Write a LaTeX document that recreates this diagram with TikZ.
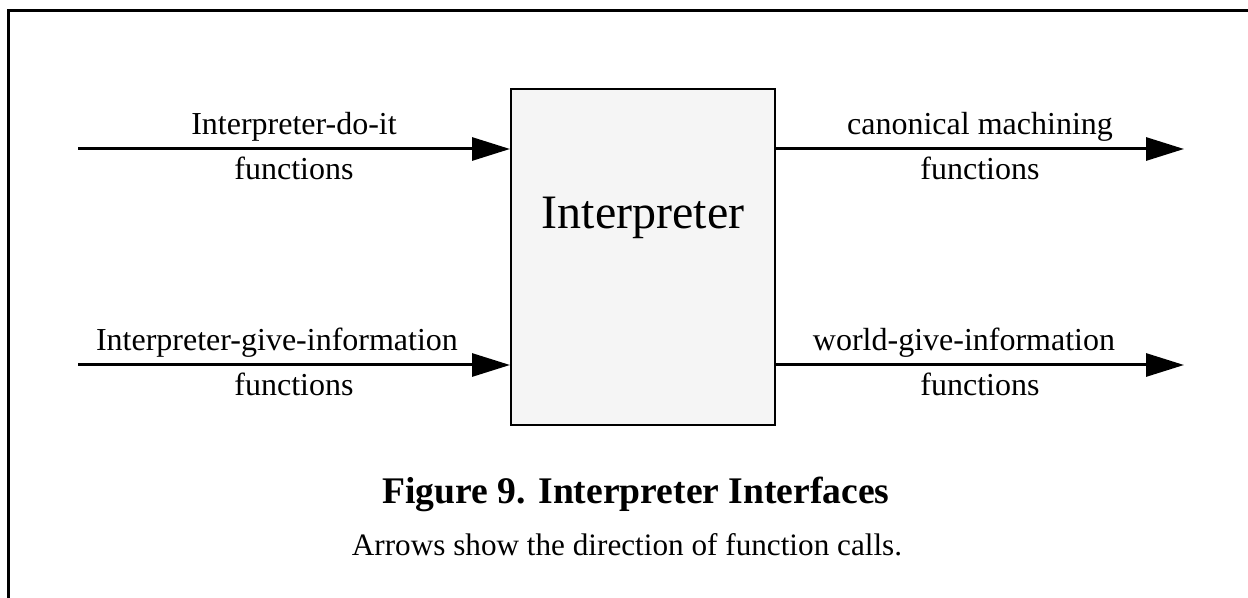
\documentclass[tikz,border=0pt]{standalone}
\usepackage{fontspec}
\setmainfont{Liberation Serif}
\usetikzlibrary{arrows.meta,positioning}

\begin{document}
\begin{tikzpicture}[
    x=0.5pt,
    y=-0.5pt,
    >={Triangle[length=19pt,width=11.5pt]},
    font=\fontsize{16}{19}\selectfont,
    callarrow/.style={->, line width=1.5pt},
    interpbox/.style={draw, line width=1pt, fill=black!4,
        minimum width=132pt, minimum height=168pt, inner sep=0pt},
    callname/.style={inner sep=3pt}
]
	\useasboundingbox (0,0) rectangle (1248,598);
	% frame, only top and left edges show
	\draw[line width=1.5pt] (8,598) -- (8,11) -- (1248,11);

	\node[interpbox] (interp) at (643,257) {};
	\node[font=\fontsize{24}{28}\selectfont] (interpname) at (643,218) {Interpreter};

	\coordinate (doit) at (78,149);
	\coordinate (giveinfo) at (78,365);
	\coordinate (canon) at (1184,149);
	\coordinate (world) at (1184,365);

	\draw[callarrow] (doit) -- node[callname,above] {Interpreter-do-it}
		node[callname,below] {functions} (doit -| interp.west);
	\draw[callarrow] (giveinfo) -- node[callname,above,xshift=-8.5pt] {Interpreter-give-information}
		node[callname,below] {functions} (giveinfo -| interp.west);
	\draw[callarrow] (canon -| interp.east) -- node[callname,above] {canonical machining}
		node[callname,below] {functions} (canon);
	\draw[callarrow] (world -| interp.east) -- node[callname,above,xshift=-8pt] {world-give-information}
		node[callname,below] {functions} (world);

	\node[font=\bfseries\fontsize{18.8}{22}\selectfont] (title) at (636,494) {Figure 9. Interpreter Interfaces};
	\node[font=\fontsize{15.6}{19}\selectfont] (caption) at (627,545) {Arrows show the direction of function calls.};
\end{tikzpicture}
\end{document}
